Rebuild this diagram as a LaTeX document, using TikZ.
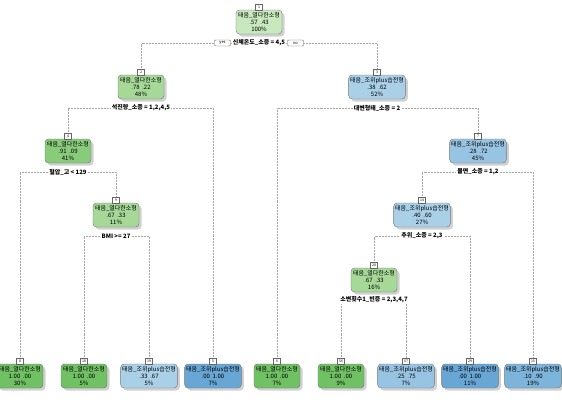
\documentclass[tikz,border=0pt]{standalone}
\usepackage{fontspec}
\newfontfamily\krfont{Noto Sans CJK KR}
\usetikzlibrary{shadows, backgrounds}
\definecolor{gnLo}{RGB}{200,232,190}
\definecolor{gnMd}{RGB}{166,216,152}
\definecolor{gnHi}{RGB}{136,203,122}
\definecolor{gnFull}{RGB}{112,192,100}
\definecolor{buLo}{RGB}{170,208,232}
\definecolor{buMd}{RGB}{152,196,227}
\definecolor{buHi}{RGB}{124,180,220}
\definecolor{buFull}{RGB}{104,166,213}
\newcommand{\gnlab}{태음\_열다한소형}
\newcommand{\bulab}{태음\_조위plus습전형}

\begin{document}
\begin{tikzpicture}[x=1bp, y=-1bp,
  tbox/.style={draw=black!55, fill=#1, rounded corners=3.5bp, minimum width=46bp,
    minimum height=24bp, inner sep=1.5bp, align=center,
    font=\krfont\fontsize{6}{7}\selectfont,
    drop shadow={shadow xshift=2.5bp, shadow yshift=-2.5bp, fill=black!45, opacity=0.4}},
  num/.style={draw=black!60, fill=white, inner sep=0.6bp, minimum width=7bp,
    minimum height=6bp, font=\krfont\fontsize{3.5}{4}\selectfont, anchor=south, yshift=-1bp},
  split/.style={fill=white, inner sep=1bp, font=\krfont\bfseries\fontsize{6}{7}\selectfont},
  yn/.style={draw=black!60, fill=white, rounded corners=1bp, minimum width=16bp,
    minimum height=6bp, inner sep=0.5bp, font=\krfont\fontsize{4}{4.5}\selectfont},
  link/.style={black!35, line width=0.35pt, dash pattern=on 0.5pt off 1pt}]
  \useasboundingbox (0,0) rectangle (562,401);

  % inner nodes
  \node[tbox=gnLo] (n1) at (259,22) {\gnlab\\.57\ \ .43\\100\%};
  \node[tbox=gnMd] (n2) at (141,87) {\gnlab\\.78\ \ .22\\48\%};
  \node[tbox=buLo] (n3) at (377,87) {\bulab\\.38\ \ .62\\52\%};
  \node[tbox=gnHi] (n4) at (68,151) {\gnlab\\.91\ \ .09\\41\%};
  \node[tbox=buMd] (n7) at (478,151) {\bulab\\.28\ \ .72\\45\%};
  \node[tbox=gnMd] (n9) at (116,215) {\gnlab\\.67\ \ .33\\11\%};
  \node[tbox=buLo] (n14) at (422,215) {\bulab\\.40\ \ .60\\27\%};
  \node[tbox=gnMd] (n28) at (374,280) {\gnlab\\.67\ \ .33\\16\%};

  % leaves
  \node[tbox=gnFull] (n8) at (20,376) {\gnlab\\1.00\ \ .00\\30\%};
  \node[tbox=gnFull] (n18) at (84,376) {\gnlab\\1.00\ \ .00\\5\%};
  \node[tbox=buLo] (n19) at (149,376) {\bulab\\.33\ \ .67\\5\%};
  \node[tbox=buFull] (n5) at (213,376) {\bulab\\.00\ \ 1.00\\7\%};
  \node[tbox=gnFull] (n6) at (277,376) {\gnlab\\1.00\ \ .00\\7\%};
  \node[tbox=gnFull] (n56) at (341,376) {\gnlab\\1.00\ \ .00\\9\%};
  \node[tbox=buMd] (n57) at (406,376) {\bulab\\.25\ \ .75\\7\%};
  \node[tbox=buFull] (n29) at (470,376) {\bulab\\.00\ \ 1.00\\11\%};
  \node[tbox=buHi] (n15) at (533,376) {\bulab\\.10\ \ .90\\19\%};

  \foreach \k in {1,2,3,4,5,6,7,8,9,14,15,18,19,28,29,56,57}
    \node[num] (k\k) at (n\k.north) {\k};

  % split labels
  \node[split] (s1) at (259,43) {신체온도\_소증 = 4,5};
  \node[yn, anchor=east] (yes) at ([xshift=-1bp]s1.west) {yes};
  \node[yn, anchor=west] (no) at ([xshift=1bp]s1.east) {no};
  \node[split] (s2) at (141,108) {석진량\_소증 = 1,2,4,5};
  \node[split] (s3) at (377,108) {대변형태\_소증 = 2};
  \node[split] (s4) at (68,172) {혈압\_고 < 129};
  \node[split] (s7) at (478,172) {불면\_소증 = 1,2};
  \node[split] (s9) at (116,236) {BMI >= 27};
  \node[split] (s14) at (422,236) {추위\_소증 = 2,3};
  \node[split] (s28) at (374,300) {소변횟수1\_빈증 = 2,3,4,7};

  \begin{scope}[on background layer]
    \draw[link] (k2.north) |- (s1.center) -| (k3.north);
    \draw[link] (k4.north) |- (s2.center) -| (k5.north);
    \draw[link] (k6.north) |- (s3.center) -| (k7.north);
    \draw[link] (k8.north) |- (s4.center) -| (k9.north);
    \draw[link] (k14.north) |- (s7.center) -| (k15.north);
    \draw[link] (k18.north) |- (s9.center) -| (k19.north);
    \draw[link] (k28.north) |- (s14.center) -| (k29.north);
    \draw[link] (k56.north) |- (s28.center) -| (k57.north);
  \end{scope}
\end{tikzpicture}
\end{document}
